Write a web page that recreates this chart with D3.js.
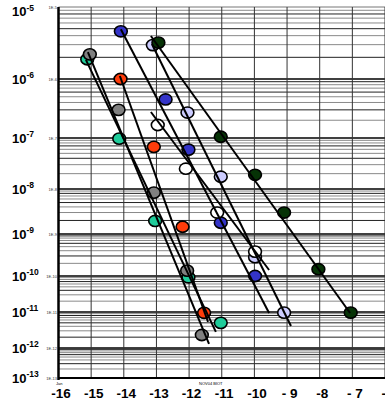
<!DOCTYPE html>
<html>
<head>
<meta charset="utf-8">
<script src="https://cdn.jsdelivr.net/npm/d3@7"></script>
<style>
  html, body { margin: 0; padding: 0; background: #fff; }
  svg { display: block; font-family: "Liberation Sans", Arial, sans-serif; }
</style>
</head>
<body>
<svg id="svg" width="385" height="403"></svg>
<script>
// axis data
const xTicks = [-16, -15, -14, -13, -12, -11, -10, -9, -8, -7, -6]
const xLabels = ["-16", "-15", "-14", "-13", "-12", "-11", "-10", "- 9", "-8", "- 7", "-6"]
const yDecades = [1e-5, 1e-6, 1e-7, 1e-8, 1e-9, 1e-10, 1e-11, 1e-12, 1e-13]
const yExps = ["-5", "-6", "-7", "-8", "-9", "-10", "-11", "-12", "-13"]
const ySmall = ["1E-5", "1E-6", "1E-7", "1E-8", "1E-9", "1E-10", "1E-11", "1E-12", "1E-13"]

// measured points, one pair of arrays per series
const tealX = [-15.12, -14.14, -13.04, -12.02, -11.03]
const tealY = [1.88e-6, 9.7e-8, 1.95e-9, 9.2e-11, 5.0e-12]
const grayX = [-15.04, -14.16, -13.08, -12.06, -11.61]
const grayY = [2.2e-6, 3.0e-7, 8.3e-9, 1.34e-10, 2.3e-12]
const orangeX = [-14.1, -13.08, -12.2, -11.54]
const orangeY = [1.0e-6, 6.7e-8, 1.45e-9, 9.5e-12]
const blueX = [-14.09, -12.72, -12.02, -11.03, -9.98]
const blueY = [4.6e-6, 4.5e-7, 5.9e-8, 1.78e-9, 1.0e-10]
const lavenderX = [-13.11, -12.05, -11.03, -9.98, -9.09]
const lavenderY = [2.96e-6, 2.7e-7, 1.74e-8, 2.8e-10, 9.6e-12]
const whiteX = [-12.96, -12.1, -11.14, -9.98]
const whiteY = [1.66e-7, 2.5e-8, 3.0e-9, 3.8e-10]
const greenX = [-12.94, -11.03, -9.98, -9.09, -8.04, -7.05]
const greenY = [3.2e-6, 1.05e-7, 1.9e-8, 3.0e-9, 1.45e-10, 9.6e-12]

// fitted lines (start, end)
const tealFitX = [-15.16, -11.18], tealFitY = [1.84e-6, 2.8e-12]
const grayFitX = [-15.1, -11.39], grayFitY = [2.37e-6, 1.3e-12]
const orangeFitX = [-14.12, -11.42], orangeFitY = [1.1e-6, 5.3e-12]
const blueFitX = [-14.09, -9.55], blueFitY = [4.9e-6, 9.4e-12]
const lavenderFitX = [-13.14, -8.88], lavenderFitY = [3.06e-6, 4.1e-12]
const whiteFitX = [-13.17, -9.55], whiteFitY = [2.76e-7, 1.39e-10]
const greenFitX = [-13.17, -7.07], greenFitY = [3.96e-6, 9.4e-12]

const series = [
  {xs: tealX, ys: tealY, fx: tealFitX, fy: tealFitY, color: "#1fcc9a"},
  {xs: grayX, ys: grayY, fx: grayFitX, fy: grayFitY, color: "#808080"},
  {xs: orangeX, ys: orangeY, fx: orangeFitX, fy: orangeFitY, color: "#ff3c0a"},
  {xs: blueX, ys: blueY, fx: blueFitX, fy: blueFitY, color: "#3434c8"},
  {xs: lavenderX, ys: lavenderY, fx: lavenderFitX, fy: lavenderFitY, color: "#ccccff"},
  {xs: whiteX, ys: whiteY, fx: whiteFitX, fy: whiteFitY, color: "#ffffff"},
  {xs: greenX, ys: greenY, fx: greenFitX, fy: greenFitY, color: "#063306"}
]

const svg = d3.select("#svg")
const plotTop = 7, plotBottom = 378, plotLeft = 58.5, plotRight = 385

const x = d3.scaleLinear().domain([-16, -6]).range([plotLeft, plotRight])
// the scanned axis is not evenly spaced per decade, so piecewise log
const y = d3.scaleLog().domain(yDecades).range([7, 79, 138, 189, 234, 276, 312, 348, 378])

// minor horizontal grid
const minor = []
yDecades.slice(1).forEach(d => {
  for (let k = 2; k <= 9; k++) minor.push(d * k)
})
const grid = svg.append("g")
grid.selectAll("line.minor")
  .data(minor)
  .enter().append("line")
  .attr("class", "minor")
  .attr("x1", plotLeft).attr("x2", plotRight)
  .attr("y1", d => y(d)).attr("y2", d => y(d))
  .attr("stroke", (d, i) => i % 3 == 0 ? "#222" : "#8a8a8a")
  .attr("stroke-width", 1)

grid.selectAll("line.decade")
  .data(yDecades)
  .enter().append("line")
  .attr("class", "decade")
  .attr("x1", plotLeft).attr("x2", plotRight)
  .attr("y1", d => y(d)).attr("y2", d => y(d))
  .attr("stroke", (d, i) => i == 0 ? "#777" : "#000")
  .attr("stroke-width", (d, i) => i == 0 ? 1 : 1.6)

grid.selectAll("line.vert")
  .data(xTicks.slice(1))
  .enter().append("line")
  .attr("class", "vert")
  .attr("x1", d => x(d)).attr("x2", d => x(d))
  .attr("y1", plotTop).attr("y2", plotBottom)
  .attr("stroke", "#333")
  .attr("stroke-width", 1)

// axes frame
svg.append("line")
  .attr("x1", plotLeft).attr("x2", plotLeft).attr("y1", plotTop).attr("y2", plotBottom + 2)
  .attr("stroke", "#000").attr("stroke-width", 2.5)
svg.append("line")
  .attr("x1", plotLeft).attr("x2", plotRight).attr("y1", plotBottom).attr("y2", plotBottom)
  .attr("stroke", "#000").attr("stroke-width", 2)

// points
const dots = svg.append("g")
series.forEach(s => {
  dots.append("g")
    .selectAll("ellipse")
    .data(s.xs.map((d, i) => [d, s.ys[i]]))
    .enter().append("ellipse")
    .attr("cx", d => x(d[0]))
    .attr("cy", d => y(d[1]))
    .attr("rx", 6.4)
    .attr("ry", 5.6)
    .attr("fill", s.color)
    .attr("stroke", "#000")
    .attr("stroke-width", 1.6)
})

// fit lines
const line = d3.line().x(d => x(d[0])).y(d => y(d[1]))
svg.append("g")
  .selectAll("path")
  .data(series)
  .enter().append("path")
  .attr("d", s => line(s.fx.map((d, i) => [d, s.fy[i]])))
  .attr("fill", "none")
  .attr("stroke", "#000")
  .attr("stroke-width", 2)

// y labels
const yl = svg.append("g")
yDecades.forEach((d, i) => {
  const base = Math.max(y(d) + 4.5, 16)
  const t = yl.append("text")
    .attr("x", 12).attr("y", base)
    .attr("font-size", 13).attr("font-weight", "bold")
    .text("10")
  t.append("tspan").attr("dy", -5.5).attr("font-size", 8.5).text(yExps[i])
  yl.append("text")
    .attr("x", 57).attr("y", y(d) + 1.5)
    .attr("text-anchor", "end")
    .attr("font-size", 4).attr("fill", "#333")
    .text(ySmall[i])
})

// x labels
const xAxis = d3.axisBottom(x)
  .tickValues(xTicks)
  .tickFormat((d, i) => xLabels[i])
  .tickSize(0)
const xg = svg.append("g")
  .attr("transform", "translate(2," + (plotBottom + 7) + ")")
  .call(xAxis)
xg.select(".domain").remove()
xg.selectAll("text")
  .attr("font-family", "Liberation Sans, Arial, sans-serif")
  .attr("font-size", 13.5)
  .attr("font-weight", "bold")
  .attr("fill", "#000")

svg.append("text").attr("x", 56).attr("y", 384.5).attr("font-size", 4).text("Jan")
svg.append("text").attr("x", 199).attr("y", 384.5).attr("font-size", 4).text("NOV04 BIOT")
</script>
</body>
</html>
